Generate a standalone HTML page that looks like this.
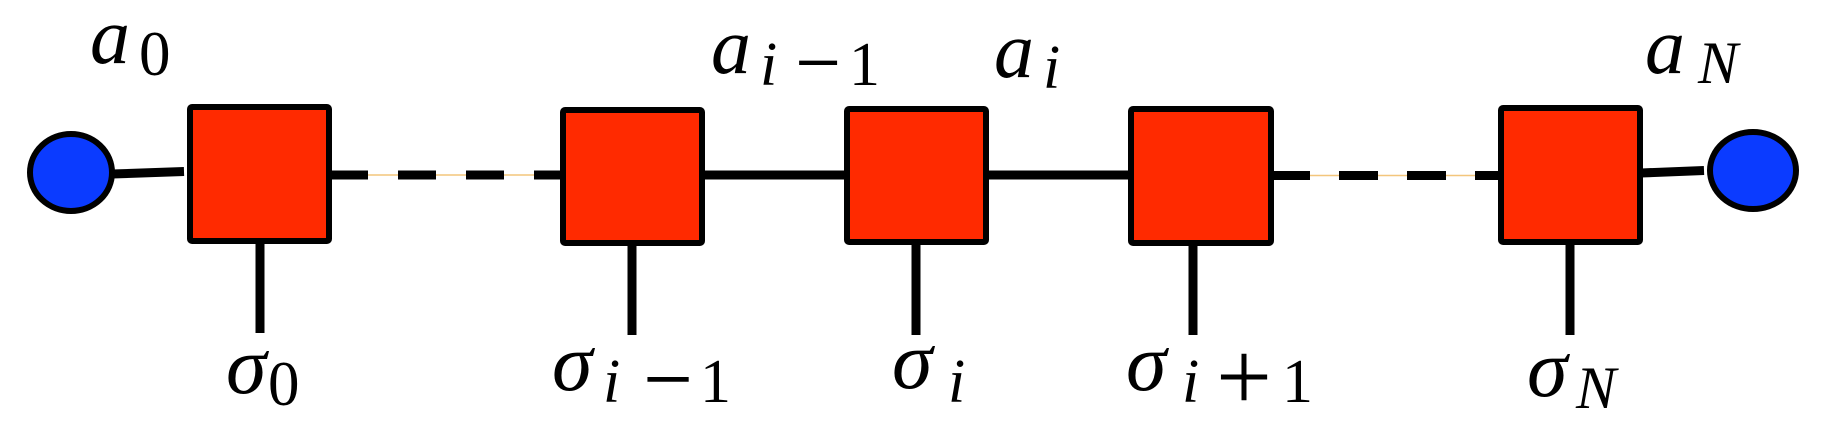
<!DOCTYPE html>
<html>
<head>
<meta charset="utf-8">
<style>
  html, body { margin: 0; padding: 0; background: #ffffff; }
  body { width: 1822px; height: 433px; overflow: hidden; }
  svg { display: block; }
  text { font-family: "Liberation Serif", "DejaVu Serif", serif; fill: #000; }
  .it { font-style: italic; }
</style>
</head>
<body>
<svg width="1822" height="433" viewBox="0 0 1822 433" xmlns="http://www.w3.org/2000/svg">
  <rect x="0" y="0" width="1822" height="433" fill="#ffffff"/>

  <!-- thin orange guide lines under dashed segments -->
  <line x1="332" y1="175" x2="560" y2="175" stroke="#f3c67c" stroke-width="1.5"/>
  <line x1="1274" y1="175.5" x2="1498" y2="175.5" stroke="#f3c67c" stroke-width="1.5"/>

  <!-- left dashed segment -->
  <g stroke="#000" stroke-width="9" stroke-linecap="butt">
    <line x1="330" y1="175" x2="368" y2="175"/>
    <line x1="398" y1="175" x2="436" y2="175"/>
    <line x1="466" y1="175" x2="504" y2="175"/>
    <line x1="534" y1="175" x2="562" y2="175"/>
  </g>
  <!-- right dashed segment -->
  <g stroke="#000" stroke-width="9" stroke-linecap="butt">
    <line x1="1272" y1="175.5" x2="1310" y2="175.5"/>
    <line x1="1339" y1="175.5" x2="1378" y2="175.5"/>
    <line x1="1407" y1="175.5" x2="1446" y2="175.5"/>
    <line x1="1475" y1="175.5" x2="1500" y2="175.5"/>
  </g>

  <!-- solid bonds -->
  <g stroke="#000" stroke-width="9" stroke-linecap="butt">
    <line x1="703" y1="175" x2="846" y2="175"/>
    <line x1="982" y1="175" x2="1130" y2="175"/>
    <line x1="112" y1="174" x2="184" y2="171.5"/>
    <line x1="1641" y1="173" x2="1704" y2="170.5"/>
  </g>

  <!-- physical legs -->
  <g stroke="#000" stroke-width="9" stroke-linecap="butt">
    <line x1="260" y1="240" x2="260" y2="333"/>
    <line x1="632" y1="242" x2="632" y2="335"/>
    <line x1="916" y1="241" x2="916" y2="335"/>
    <line x1="1193" y1="242" x2="1193" y2="335"/>
    <line x1="1570" y1="241" x2="1570" y2="335"/>
  </g>

  <!-- tensors (squares) -->
  <g fill="#ff2a00" stroke="#000" stroke-width="6" stroke-linejoin="round">
    <rect x="190" y="107" width="139" height="134" rx="2"/>
    <rect x="563" y="110" width="139" height="133" rx="2"/>
    <rect x="847" y="109" width="139" height="133" rx="2"/>
    <rect x="1131" y="109" width="140" height="134" rx="2"/>
    <rect x="1501" y="108" width="139" height="134" rx="2"/>
  </g>

  <!-- boundary vectors (circles) -->
  <g fill="#0b3bff" stroke="#000" stroke-width="6">
    <ellipse cx="71" cy="172.5" rx="41" ry="38.5"/>
    <ellipse cx="1753" cy="170.5" rx="43" ry="38.5"/>
  </g>

  <!-- top labels -->
  <text class="it" x="90" y="63" font-size="80">a</text>
  <text x="139" y="75" font-size="63">0</text>

  <text class="it" x="711" y="73" font-size="80">a</text>
  <text class="it" x="760" y="85" font-size="62">i</text>
  <text x="795" y="92" font-size="88" textLength="46" lengthAdjust="spacingAndGlyphs">−</text>
  <text x="849" y="85" font-size="62">1</text>

  <text class="it" x="994" y="77" font-size="80">a</text>
  <text class="it" x="1043" y="88" font-size="62">i</text>

  <text class="it" x="1645" y="73" font-size="80">a</text>
  <text class="it" x="1698" y="83" font-size="60">N</text>

  <!-- bottom labels -->
  <text class="it" x="226" y="393" font-size="82">σ</text>
  <text x="268" y="405" font-size="63">0</text>

  <text class="it" x="552" y="390" font-size="82">σ</text>
  <text class="it" x="603" y="402" font-size="62">i</text>
  <text x="643" y="411" font-size="95" textLength="50" lengthAdjust="spacingAndGlyphs">−</text>
  <text x="700" y="402" font-size="62">1</text>

  <text class="it" x="892" y="388" font-size="82">σ</text>
  <text class="it" x="948" y="402" font-size="62">i</text>

  <text class="it" x="1126" y="390" font-size="82">σ</text>
  <text class="it" x="1182" y="402" font-size="62">i</text>
  <text x="1216" y="410" font-size="100" textLength="56" lengthAdjust="spacingAndGlyphs">+</text>
  <text x="1282" y="402" font-size="62">1</text>

  <text class="it" x="1527" y="396" font-size="82">σ</text>
  <text class="it" x="1576" y="408" font-size="60">N</text>
</svg>
</body>
</html>
